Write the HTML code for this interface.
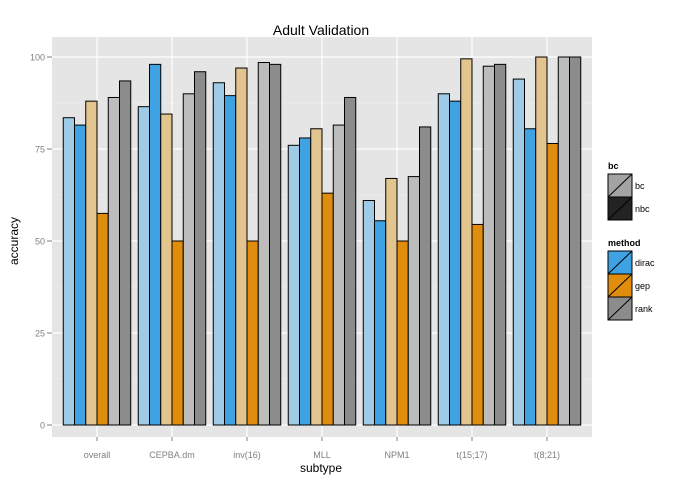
<!DOCTYPE html>
<html><head><meta charset="utf-8"><style>body{margin:0;background:#fff}svg{display:block;font-family:"Liberation Sans",sans-serif}</style></head>
<body>
<svg id="c" width="691" height="485"></svg>
<script>
const categories=["overall","CEPBA.dm","inv(16)","MLL","NPM1","t(15;17)","t(8;21)"];
const diracBc=[83.5,86.5,93,76,61,90,94];
const diracNbc=[81.5,98,89.5,78,55.5,88,80.5];
const gepBc=[88,84.5,97,80.5,67,99.5,100];
const gepNbc=[57.5,50,50,63,50,54.5,76.5];
const rankBc=[89,90,98.5,81.5,67.5,97.5,100];
const rankNbc=[93.5,96,98,89,81,98,100];
const yTicks=[0,25,50,75,100];
const series=[[diracBc,"#9fcbe6"],[diracNbc,"#3fa2e3"],[gepBc,"#e2c48e"],[gepNbc,"#e08c0c"],[rankBc,"#bcbcbc"],[rankNbc,"#8c8c8c"]];
const NS="http://www.w3.org/2000/svg",svg=document.getElementById("c");
function mk(t,a,txt){const e=document.createElementNS(NS,t);for(const k in a)e.setAttribute(k,a[k]);if(txt!=null)e.textContent=txt;svg.appendChild(e);return e;}
const L=52,R=592,T=37,B=437;
const y=v=>425-v*3.68;
const step=(R-L)/(categories.length+0.2);
const x=i=>L+step*(i+0.6);
let e=mk("rect",{x:L,y:T,width:R-L,height:B-T,fill:"#e5e5e5"});

for(let i=0;i<yTicks.length-1;i++){const m=(yTicks[i]+yTicks[i+1])/2;mk("line",{x1:L,x2:R,y1:y(m),y2:y(m),stroke:"#f2f2f2","stroke-width":0.6});}
yTicks.forEach(t=>{e=mk("line",{x1:L,x2:R,y1:y(t),y2:y(t),stroke:"#fff","stroke-width":1.2});

e=mk("text",{x:45,y:y(t)+3.5,"text-anchor":"end","font-size":9,fill:"#7f7f7f"},t);

mk("line",{x1:47,x2:L,y1:y(t),y2:y(t),stroke:"#7f7f7f"});});
const bw=step*0.9/6;
categories.forEach((c,i)=>{mk("line",{x1:x(i),x2:x(i),y1:T,y2:B,stroke:"#fff","stroke-width":1.2});
e=mk("text",{x:x(i),y:458,"text-anchor":"middle","font-size":9,fill:"#7f7f7f"},c);

mk("line",{x1:x(i),x2:x(i),y1:B,y2:B+4,stroke:"#7f7f7f"});});
categories.forEach((c,i)=>{series.forEach((s,j)=>{const v=s[0][i];const x0=x(i)-3*bw+j*bw;
e=mk("rect",{x:x0,y:y(v),width:bw,height:y(0)-y(v),fill:s[1],stroke:"#000","stroke-width":1});
});});
e=mk("text",{x:321,y:35,"text-anchor":"middle","font-size":14},"Adult Validation");

e=mk("text",{x:321,y:472,"text-anchor":"middle","font-size":12},"subtype");

e=mk("text",{x:18,y:241,"text-anchor":"middle","font-size":12,transform:"rotate(-90 18 241)"},"accuracy");

function key(yy,fill,label){const g=document.createElementNS(NS,"g");svg.appendChild(g);

const r=document.createElementNS(NS,"rect");[["x",608],["y",yy],["width",24],["height",23],["fill",fill],["stroke","#000"],["stroke-width",1]].forEach(a=>r.setAttribute(a[0],a[1]));g.appendChild(r);
const l=document.createElementNS(NS,"line");[["x1",608],["y1",yy+23],["x2",632],["y2",yy],["stroke","#000"]].forEach(a=>l.setAttribute(a[0],a[1]));g.appendChild(l);
const t=document.createElementNS(NS,"text");[["x",635],["y",yy+15],["font-size",9]].forEach(a=>t.setAttribute(a[0],a[1]));t.textContent=label;g.appendChild(t);}
e=mk("text",{x:608,y:169,"font-size":9,"font-weight":"bold"},"bc");

key(174,"#a3a3a3","bc");key(197,"#232323","nbc");
e=mk("text",{x:608,y:246,"font-size":9,"font-weight":"bold"},"method");

key(251,"#3fa2e3","dirac");key(274,"#e08c0c","gep");key(297,"#8c8c8c","rank");
</script>
</body></html>
